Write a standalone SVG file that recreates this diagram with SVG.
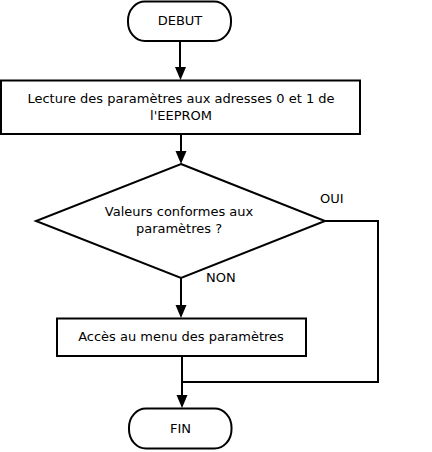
<svg xmlns="http://www.w3.org/2000/svg" width="432" height="452" viewBox="0 0 432 452">
<style>
.s{fill:#fff;stroke:#000;stroke-width:2}
.c{fill:none;stroke:#000;stroke-width:2}
.h{fill:#000}
text{font-family:"DejaVu Sans",sans-serif;font-size:13px;fill:#000;text-anchor:middle}
.l{text-anchor:start}
</style>
<rect width="432" height="452" fill="#fff"/>
<g id="connectors">
<line class="c" x1="180" y1="41" x2="180" y2="70"/>
<line class="c" x1="181" y1="134" x2="181" y2="153"/>
<line class="c" x1="181" y1="278" x2="181" y2="307"/>
<polyline class="c" points="325,221 378,221 378,382 182,382"/>
<line class="c" x1="182" y1="356" x2="182" y2="397"/>
<path class="h" d="M175,67 L186,67 L180.5,80 Z"/>
<path class="h" d="M175.5,151 L186.5,151 L181,164 Z"/>
<path class="h" d="M175.5,305 L186.5,305 L181,318 Z"/>
<path class="h" d="M176.5,395 L187.5,395 L182,408 Z"/>
<text class="l" x="320" y="203">OUI</text>
<text class="l" x="206" y="282">NON</text>
</g>
<g id="debut">
<rect class="s" x="128" y="1.5" width="103" height="39.5" rx="17" ry="19"/>
<text x="180" y="25">DEBUT</text>
</g>
<g id="lecture">
<rect class="s" x="1" y="80.5" width="359" height="53.5"/>
<text x="181" y="103">Lecture des paramètres aux adresses 0 et 1 de</text>
<text x="181" y="119.5">l'EEPROM</text>
</g>
<g id="decision">
<polygon class="s" points="181,164 325,221 181,278 36,221"/>
<text x="179" y="216">Valeurs conformes aux</text>
<text x="179" y="233">paramètres ?</text>
</g>
<g id="menu">
<rect class="s" x="57" y="318.5" width="249" height="37.5"/>
<text x="181" y="341">Accès au menu des paramètres</text>
</g>
<g id="fin">
<rect class="s" x="129" y="408.5" width="102.5" height="40" rx="17" ry="19"/>
<text x="180.5" y="433">FIN</text>
</g>
</svg>
